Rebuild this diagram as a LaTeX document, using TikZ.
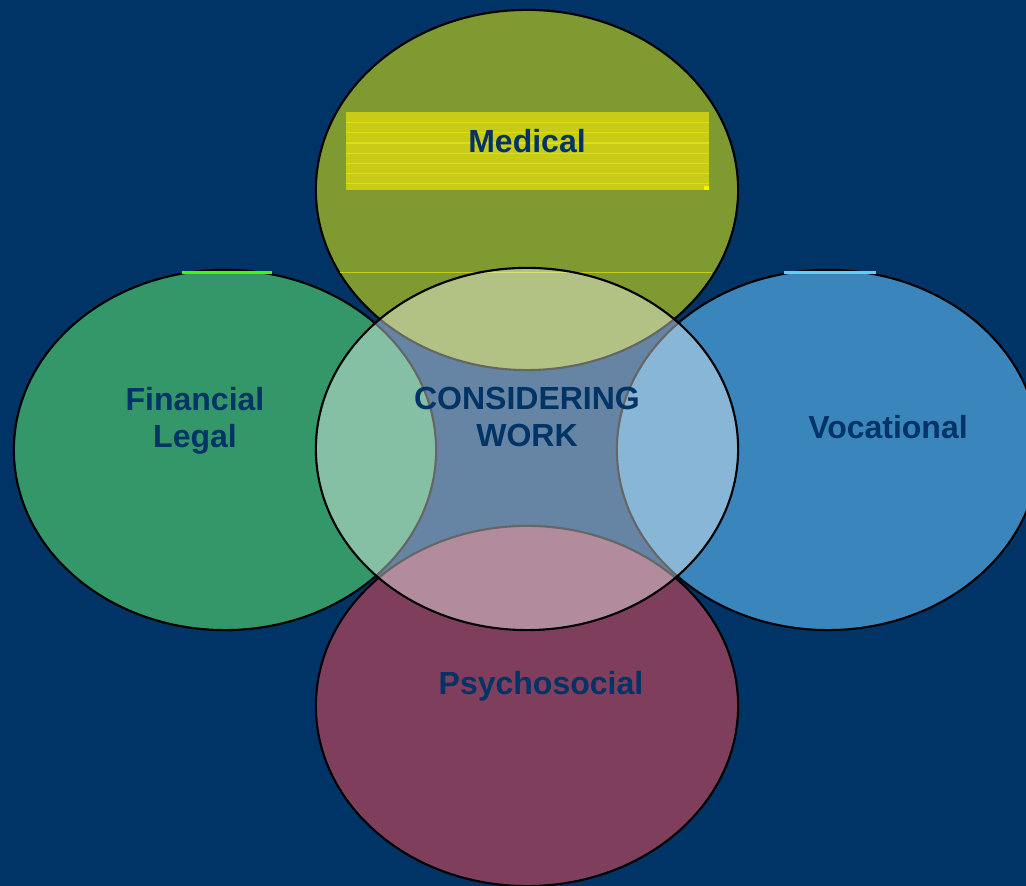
\documentclass[tikz,border=0pt]{standalone}
\usepackage{fontspec}
\setmainfont{Liberation Sans}
\usepackage{xcolor}
\usepackage{tikz}
\usetikzlibrary{shapes.geometric}
\definecolor{navy}{HTML}{003366}
\definecolor{olive}{HTML}{809A32}
\definecolor{leafgreen}{HTML}{34976A}
\definecolor{steelblue}{HTML}{3A86BC}
\definecolor{plum}{HTML}{7F3F5C}
\definecolor{lemon}{HTML}{C8CC16}
\definecolor{brightlemon}{HTML}{E4E810}

\begin{document}
\begin{tikzpicture}[x=0.01cm,y=-0.01cm,
    area/.style={ellipse,draw=black,line width=0.6pt,inner sep=0pt,
      minimum width=4.22cm,minimum height=3.6cm},
    word/.style={font=\fontsize{9.1}{10.4}\selectfont\bfseries,text=navy,align=center}]
  \fill[navy] (0,0) rectangle (1026,886);
  \useasboundingbox (0,0) rectangle (1026,886);

  % the four fields
  \node[area,fill=olive] (medical) at (527,190) {};
  \node[area,fill=leafgreen] (financial) at (225,450) {};
  \node[area,fill=steelblue] (vocational) at (828,450) {};
  \node[area,fill=plum] (psychosocial) at (527,706) {};

  % bright rims along the tops
  \draw[line width=0.025cm,green!70!lime] (182,272.5) -- (272,272.5);
  \draw[line width=0.025cm,cyan!60!white] (784,272.5) -- (876,272.5);
  \draw[line width=0.01cm,lemon] (340,273) -- (712,273);

  % highlighted title block
  \fill[lemon] (346,112) rectangle (709,190);
  \foreach \i in {0,...,6}
    \draw[line width=0.012cm,brightlemon!70!lemon] (346,122.7+10.2*\i) -- (709,122.7+10.2*\i);
  \fill[yellow] (704,186) rectangle (709,190);

  % shared core
  \node[area,fill=white,fill opacity=0.4,minimum height=3.62cm] (work) at (527,449) {};

  \node[word] at (527,141) {Medical};
  \node[word] at (195,421) {Financial\\Legal};
  \node[word] at (888,427) {Vocational};
  \node[word] at (541,686) {Psychosocial};
  \node[word] at (527,417) {CONSIDERING\\WORK};
\end{tikzpicture}
\end{document}
